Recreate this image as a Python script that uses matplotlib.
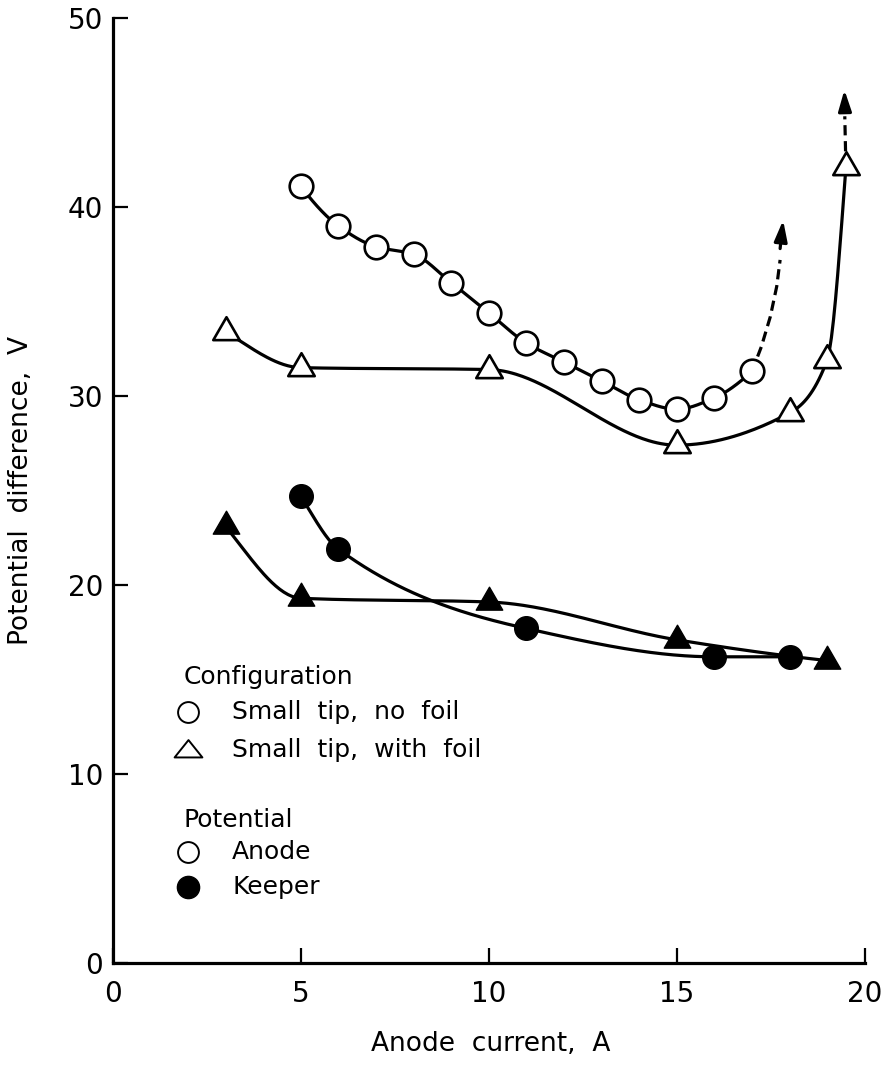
import numpy as np
import matplotlib
matplotlib.use("Agg")
import matplotlib.pyplot as plt
from matplotlib.path import Path

# Anode potential, small tip without foil (open circles)
anode_nofoil_x = [5, 6, 7, 8, 9, 10, 11, 12, 13, 14, 15, 16, 17]
anode_nofoil_y = [41.1, 39.0, 37.9, 37.5, 36.0, 34.4, 32.8, 31.8, 30.8, 29.8, 29.3, 29.9, 31.3]
# dashed continuation
anode_nofoil_dash_x = [17.0, 17.25, 17.49, 17.66, 17.75]
anode_nofoil_dash_y = [31.3, 32.6, 34.2, 35.8, 37.2]
anode_nofoil_arrow = (17.83, 39.3)

# Anode potential, small tip with foil (open triangles)
anode_foil_x = [3, 5, 10, 15, 18, 19, 19.5]
anode_foil_y = [33.4, 31.5, 31.4, 27.4, 29.1, 31.9, 42.1]
anode_foil_dash_x = [19.5, 19.48, 19.47]
anode_foil_dash_y = [42.1, 43.9, 44.8]
anode_foil_arrow = (19.46, 46.2)

# Keeper potential, small tip without foil (filled circles)
keeper_nofoil_x = [5, 6, 11, 16, 18]
keeper_nofoil_y = [24.7, 21.9, 17.7, 16.2, 16.2]

# Keeper potential, small tip with foil (filled triangles)
keeper_foil_x = [3, 5, 10, 15, 19]
keeper_foil_y = [23.1, 19.3, 19.1, 17.1, 16.0]

x_ticks = [0, 5, 10, 15, 20]
y_ticks = [0, 10, 20, 30, 40, 50]


def smooth(x, y, n=300):
    # monotone cubic (Fritsch-Carlson) curve through the points, like a french curve
    x = np.asarray(x, float)
    y = np.asarray(y, float)
    h = np.diff(x)
    d = np.diff(y) / h
    m = np.zeros(len(x))
    for k in range(1, len(x) - 1):
        if d[k - 1] * d[k] > 0:
            w1 = 2 * h[k] + h[k - 1]
            w2 = h[k] + 2 * h[k - 1]
            m[k] = (w1 + w2) / (w1 / d[k - 1] + w2 / d[k])

    def end(h0, h1, d0, d1):
        mm = ((2 * h0 + h1) * d0 - h0 * d1) / (h0 + h1)
        if np.sign(mm) != np.sign(d0):
            mm = 0.0
        elif np.sign(d0) != np.sign(d1) and abs(mm) > 3 * abs(d0):
            mm = 3 * d0
        return mm

    m[0] = end(h[0], h[1], d[0], d[1])
    m[-1] = end(h[-1], h[-2], d[-1], d[-2])
    xs = np.linspace(x[0], x[-1], n)
    i = np.clip(np.searchsorted(x, xs) - 1, 0, len(x) - 2)
    t = (xs - x[i]) / h[i]
    h00 = 2 * t**3 - 3 * t**2 + 1
    h10 = t**3 - 2 * t**2 + t
    h01 = -2 * t**3 + 3 * t**2
    h11 = t**3 - t**2
    ys = h00 * y[i] + h10 * h[i] * m[i] + h01 * y[i + 1] + h11 * h[i] * m[i + 1]
    return xs, ys


plt.rcParams['font.family'] = ['DejaVu Sans']

fig = plt.figure(figsize=(8.91, 10.65), dpi=100)
ax = fig.add_axes([0.1265, 0.0958, 0.844, 0.8873])

lw = 2.3
# equilateral triangle centred on its centroid
tri = Path([(0, 1), (-0.866, -0.5), (0.866, -0.5), (0, 1)], closed=True)
# flatter triangle for the key
tri_key = Path([(0, 0.75), (-1, -0.5), (1, -0.5), (0, 0.75)], closed=True)

# curves
for xs_, ys_ in [(anode_nofoil_x, anode_nofoil_y), (anode_foil_x, anode_foil_y),
                 (keeper_nofoil_x, keeper_nofoil_y), (keeper_foil_x, keeper_foil_y)]:
    cx, cy = smooth(xs_, ys_)
    ax.plot(cx, cy, color='black', lw=lw, zorder=2, solid_capstyle='round')

# dashed extensions with arrows
for dx, dy, tip in [(anode_nofoil_dash_x, anode_nofoil_dash_y, anode_nofoil_arrow),
                    (anode_foil_dash_x, anode_foil_dash_y, anode_foil_arrow)]:
    ax.plot(dx, dy, color='black', lw=lw, linestyle=(0, (3.2, 1.8)), zorder=2)
    ax.annotate('', xy=tip, xytext=(dx[-1], dy[-1] + 0.6),
                arrowprops=dict(arrowstyle='-|>,head_length=0.9,head_width=0.28',
                                color='black', lw=lw, mutation_scale=14,
                                shrinkA=0, shrinkB=0), zorder=2)

# markers
ax.plot(anode_nofoil_x, anode_nofoil_y, linestyle='none', marker='o', ms=17,
        mfc='white', mec='black', mew=1.9, zorder=3)
ax.plot(anode_foil_x, anode_foil_y, linestyle='none', marker=tri, ms=22,
        mfc='white', mec='black', mew=1.9, zorder=3)
ax.plot(keeper_nofoil_x, keeper_nofoil_y, linestyle='none', marker='o', ms=17,
        mfc='black', mec='black', mew=1.0, zorder=3)
ax.plot(keeper_foil_x, keeper_foil_y, linestyle='none', marker=tri, ms=22,
        mfc='black', mec='black', mew=1.0, zorder=3)

# axes styling
ax.set_xlim(0, 20)
ax.set_ylim(0, 50)
ax.set_xticks(x_ticks)
ax.set_yticks(y_ticks)
for s in ['top', 'right']:
    ax.spines[s].set_visible(False)
for s in ['left', 'bottom']:
    ax.spines[s].set_linewidth(2.3)
ax.tick_params(direction='in', length=11, width=1.6, labelsize=20)
ax.tick_params(axis='x', pad=12)
ax.tick_params(axis='y', pad=7)

ax.set_xlabel('Anode  current,  A', fontsize=19)
ax.set_ylabel('Potential  difference,  V', fontsize=19)
ax.xaxis.set_label_coords(0.502, -0.072)
ax.yaxis.set_label_coords(-0.105, 0.50)

# key drawn inside the axes
key_fs = 18
ax.text(0.094, 0.3026, 'Configuration', transform=ax.transAxes, fontsize=key_fs, va='center')
ax.plot([0.100], [0.2656], transform=ax.transAxes, marker='o', ms=15,
        mfc='white', mec='black', mew=1.4, linestyle='none')
ax.text(0.159, 0.2656, 'Small  tip,  no  foil', transform=ax.transAxes, fontsize=key_fs, va='center')
ax.plot([0.100], [0.2254], transform=ax.transAxes, marker=tri_key, ms=20,
        mfc='white', mec='black', mew=1.4, linestyle='none')
ax.text(0.159, 0.2254, 'Small  tip,  with  foil', transform=ax.transAxes, fontsize=key_fs, va='center')

ax.text(0.094, 0.1513, 'Potential', transform=ax.transAxes, fontsize=key_fs, va='center')
ax.plot([0.100], [0.1175], transform=ax.transAxes, marker='o', ms=15,
        mfc='white', mec='black', mew=1.4, linestyle='none')
ax.text(0.159, 0.1175, 'Anode', transform=ax.transAxes, fontsize=key_fs, va='center')
ax.plot([0.100], [0.0804], transform=ax.transAxes, marker='o', ms=16,
        mfc='black', mec='black', mew=1.0, linestyle='none')
ax.text(0.159, 0.0804, 'Keeper', transform=ax.transAxes, fontsize=key_fs, va='center')

fig.savefig('out.png', dpi=100)
